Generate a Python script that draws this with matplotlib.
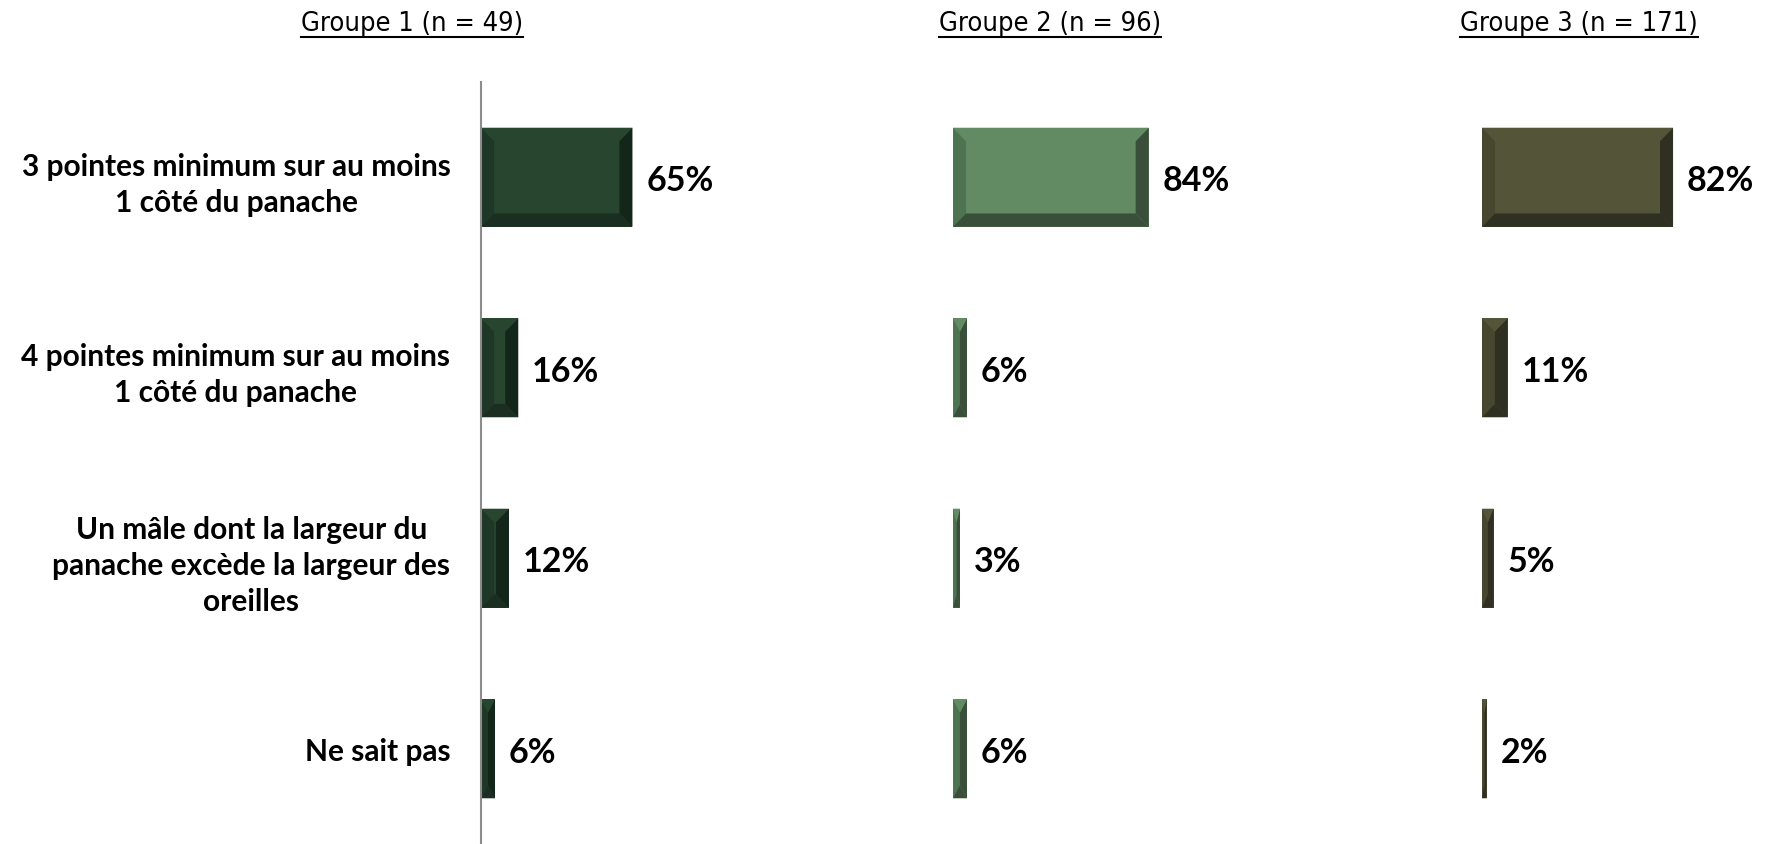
import matplotlib
matplotlib.use("Agg")
import matplotlib.pyplot as plt
from matplotlib.patches import Polygon
from matplotlib.lines import Line2D

categories = ["3 pointes minimum sur au moins\n1 côté du panache",
              "4 pointes minimum sur au moins\n1 côté du panache",
              "Un mâle dont la largeur du\npanache excède la largeur des\noreilles",
              "Ne sait pas"]
titles = ["Groupe 1 (n = 49)", "Groupe 2 (n = 96)", "Groupe 3 (n = 171)"]
groupe1 = [65, 16, 12, 6]
groupe2 = [84, 6, 3, 6]
groupe3 = [82, 11, 5, 2]

# face, left/top bevel, bottom bevel, right bevel
palettes = [("#27452F", "#1F3726", "#1A2E22", "#12271A"),
            ("#628A63", "#4E7351", "#3A4F3A", "#3A4F3A"),
            ("#545439", "#47472F", "#2F2F22", "#2F2F22")]

fig = plt.figure(figsize=(17.67, 8.45), dpi=100)
lefts = [481, 953, 1482]
bar_h = 0.52

def bevel(ax, v, y, cols):
    face, lt, bot, rt = cols
    x0, x1 = 0, v
    y0, y1 = y - bar_h / 2, y + bar_h / 2  # y inverted: y0 is visual top
    bx = min(5.6, v / 2)
    by = 0.07
    ax.add_patch(Polygon([(x0, y0), (x0 + bx, y0 + by), (x0 + bx, y1 - by), (x0, y1)], closed=True, color=lt, lw=0))
    ax.add_patch(Polygon([(x1, y0), (x1 - bx, y0 + by), (x1 - bx, y1 - by), (x1, y1)], closed=True, color=rt, lw=0))
    ax.add_patch(Polygon([(x0, y1), (x0 + bx, y1 - by), (x1 - bx, y1 - by), (x1, y1)], closed=True, color=bot, lw=0))
    ax.add_patch(Polygon([(x0, y0), (x0 + bx, y0 + by), (x1 - bx, y0 + by), (x1, y0)], closed=True, color=face, lw=0))

axes = []
for k, vals in enumerate([groupe1, groupe2, groupe3]):
    ax = fig.add_axes([lefts[k] / 1767, 0, 233 / 1767, 762 / 845])
    axes.append(ax)
    ypos = list(range(len(vals)))
    ax.barh(ypos, vals, height=bar_h, color=palettes[k][0])
    for i, v in enumerate(vals):
        bevel(ax, v, i, palettes[k])
        ax.annotate(f"{v}%", (v, i), xytext=(10, -2), textcoords="offset points",
                    va="center", ha="left", fontsize=24.5, fontweight="bold",
                    family="Lato", annotation_clip=False)
    ax.set_xlim(0, 100)
    ax.set_ylim(len(vals) - 0.5, -0.5)
    ax.set_xticks([])
    for s in ["top", "right", "bottom"]:
        ax.spines[s].set_visible(False)
    if k == 0:
        ax.spines["left"].set_color("#8C8C8C")
        ax.spines["left"].set_linewidth(1.5)
        ax.set_yticks(ypos)
        ax.set_yticklabels(categories, fontsize=21.5, fontweight="bold", family="Lato")
        for lab in ax.get_yticklabels():
            lab.set_multialignment("center")
            lab.set_linespacing(1.35)
        ax.tick_params(axis="y", length=0, pad=22)
    else:
        ax.spines["left"].set_visible(False)
        ax.set_yticks([])

title_x = [412, 1050, 1579]
texts = []
for k, t in enumerate(titles):
    texts.append(fig.text(title_x[k] / 1767, 1 - 24 / 845, t, ha="center", va="center",
                          fontsize=19.5, fontstretch="condensed", family="DejaVu Sans"))

fig.canvas.draw()
r = fig.canvas.get_renderer()
for t in texts:
    bb = t.get_window_extent(r)
    yl = (bb.y0 - 1) / fig.bbox.height
    fig.add_artist(Line2D([bb.x0 / fig.bbox.width, bb.x1 / fig.bbox.width], [yl, yl],
                          color="black", lw=1.5, transform=fig.transFigure))

fig.savefig("out.png", dpi=100)
